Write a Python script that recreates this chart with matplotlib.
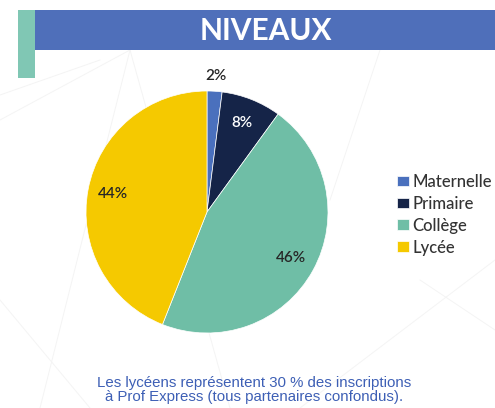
import matplotlib
matplotlib.use("Agg")
import matplotlib.pyplot as plt
from matplotlib.patches import Rectangle
import numpy as np

categories = ["Maternelle", "Primaire", "Collège", "Lycée"]
values = [2, 8, 46, 44]
colors = ["#4a70bd", "#152448", "#6fbea6", "#f5c900"]
title = "NIVEAUX"
footer = "Les lycéens représentent 30 % des inscriptions\nà Prof Express (tous partenaires confondus)."

W, H = 495, 408
fig = plt.figure(figsize=(W/100, H/100), dpi=100)
fig.patch.set_facecolor("white")

# faint background lines
bg = fig.add_axes([0, 0, 1, 1])
bg.set_xlim(0, W); bg.set_ylim(H, 0); bg.axis("off")
for (x0, y0, x1, y1) in [(0, 120, 130, 50), (130, 50, 230, 408), (130, 50, 40, 408),
                         (300, 408, 495, 260), (380, 50, 330, 200), (0, 300, 90, 408),
                         (420, 280, 495, 330), (0, 95, 100, 60)]:
    bg.plot([x0, x1], [y0, y1], color="#f4f4f4", lw=0.7, zorder=0)

# title bar
bg.add_patch(Rectangle((35, 10), W - 35, 40, facecolor="#4f6fba", edgecolor="none", zorder=1))
bg.add_patch(Rectangle((18, 10), 17, 68, facecolor="#80c7b4", edgecolor="none", zorder=2))
bg.text(266, 31, title, color="white", fontsize=21.5, fontweight="bold",
        family="Lato", ha="center", va="center", zorder=3)

# footer
bg.text(254, 390, footer, color="#3d5fb5", fontsize=10.8, family="Liberation Sans",
        ha="center", va="center", linespacing=0.95)

# pie
cx, cy, r = 207, 212, 121
ax = fig.add_axes([(cx - r)/W, (H - cy - r)/H, 2*r/W, 2*r/H])
wedges, texts = ax.pie(values, colors=colors, startangle=90, counterclock=False,
                       radius=1, wedgeprops=dict(edgecolor="white", linewidth=0.5))
ax.set_xlim(-1, 1); ax.set_ylim(-1, 1); ax.set_aspect("equal"); ax.axis("off")

for w, v in zip(wedges, values):
    ang = np.deg2rad((w.theta1 + w.theta2) / 2)
    d = 1.13 if v < 5 else 0.79
    col = "white" if v == 8 else "#262626"
    ax.text(d*np.cos(ang), d*np.sin(ang), f"{v}%", ha="center", va="center",
            fontsize=11, family="Lato", fontweight="semibold", color=col, clip_on=False)

# legend
leg = fig.legend(wedges, categories, loc="upper left", bbox_to_anchor=(382/W, 1 - 159/H),
                 frameon=False, handlelength=0.7, handleheight=0.6,
                 handletextpad=0.2, labelspacing=0.35,
                 prop=dict(family="Lato", size=12, weight="medium"))
for t in leg.get_texts():
    t.set_color("#333333")

fig.savefig("out.png", dpi=100)
